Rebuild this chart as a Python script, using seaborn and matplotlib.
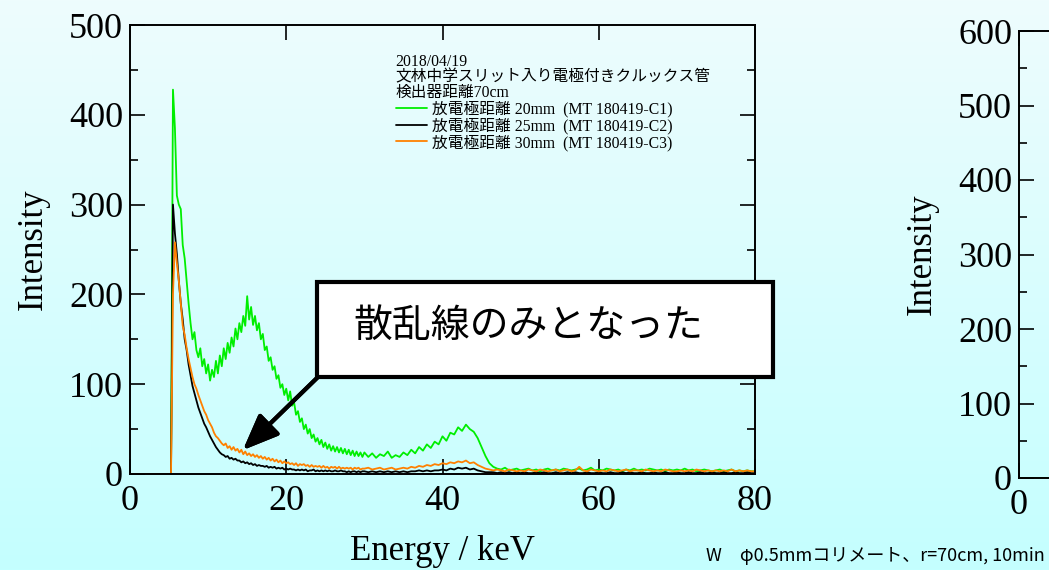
import numpy as np
import pandas as pd
import matplotlib
matplotlib.use('Agg')
import matplotlib.pyplot as plt
import seaborn as sns
from matplotlib.patches import Rectangle
from matplotlib.ticker import MultipleLocator

# energy channels (keV): one start point, 0.25 keV steps to 30, then 0.5 keV steps to 80
energy = np.concatenate([[0.0], np.arange(4, 30, 0.25), np.arange(30, 80.01, 0.5)])

green_20mm = [0,
    0, 0, 0, 0, 0, 0, 428, 385,
    310, 300, 295, 255, 240, 215, 190, 168,
    150, 158, 138, 130, 140, 120, 128, 112,
    122, 104, 116, 108, 126, 112, 132, 120,
    140, 128, 146, 135, 152, 142, 162, 150,
    168, 158, 176, 165, 198, 172, 186, 166,
    176, 160, 168, 150, 156, 138, 142, 126,
    130, 116, 120, 106, 110, 96, 100, 88,
    95, 82, 92, 76, 80, 66, 70, 58,
    62, 50, 55, 45, 50, 40, 44, 36,
    40, 33, 38, 30, 35, 28, 33, 26,
    31, 25, 30, 24, 29, 23, 28, 22,
    27, 21, 26, 20, 25, 20, 24, 19,
    24, 19, 23, 18, 22, 20, 25, 18, 21, 19,
    24, 21, 27, 23, 30, 26, 33, 29, 36, 33,
    42, 37, 46, 44, 52, 48, 55, 50, 47, 40,
    30, 20, 12, 8, 6, 5, 7, 4, 5, 6,
    4, 5, 6, 4, 5, 3, 5, 6, 4, 5,
    4, 6, 5, 4, 5, 6, 4, 5, 7, 4,
    5, 4, 6, 5, 4, 5, 3, 5, 4, 6,
    4, 5, 4, 6, 5, 4, 5, 3, 5, 4,
    5, 4, 6, 4, 5, 3, 4, 5, 4, 3,
    4, 5, 3, 4, 5, 3, 4, 3, 4, 3,
    3]

black_25mm = [0,
    0, 0, 0, 0, 0, 0, 300, 268,
    245, 215, 190, 172, 150, 138, 122, 110,
    98, 90, 82, 74, 68, 62, 56, 52,
    47, 42, 38, 34, 30, 27, 24, 22,
    21, 19, 20, 17, 18, 16, 17, 15,
    15, 13, 14, 12, 13, 11, 12, 10,
    11, 9, 10, 9, 9, 8, 9, 7,
    8, 7, 8, 6, 7, 6, 7, 5,
    6, 5, 6, 5, 5, 4, 5, 4,
    5, 4, 5, 3, 4, 4, 5, 3,
    4, 3, 4, 3, 4, 3, 4, 3,
    3, 4, 3, 3, 4, 3, 3, 2,
    3, 2, 3, 3, 2, 3, 2, 3,
    3, 2, 3, 2, 3, 2, 3, 2, 3, 2,
    3, 2, 3, 3, 4, 3, 4, 3, 4, 4,
    5, 4, 6, 5, 7, 6, 7, 5, 6, 4,
    3, 2, 2, 2, 1, 2, 1, 2, 1, 2,
    1, 2, 1, 1, 2, 1, 2, 1, 1, 2,
    1, 1, 2, 1, 2, 1, 1, 2, 1, 1,
    2, 1, 1, 2, 1, 1, 2, 1, 2, 1,
    1, 2, 1, 1, 2, 1, 1, 2, 1, 1,
    2, 1, 1, 2, 1, 1, 2, 1, 1, 2,
    1, 1, 2, 1, 1, 2, 1, 1, 2, 1,
    1]

orange_30mm = [0,
    0, 0, 0, 0, 0, 0, 200, 258,
    235, 215, 190, 165, 155, 140, 128, 118,
    108, 100, 95, 88, 82, 76, 70, 66,
    60, 56, 52, 46, 42, 40, 37, 34,
    32, 34, 29, 31, 27, 30, 26, 28,
    24, 27, 22, 25, 21, 23, 20, 22,
    19, 21, 18, 20, 17, 19, 16, 18,
    15, 17, 14, 16, 13, 15, 12, 14,
    12, 13, 11, 12, 10, 12, 9, 11,
    10, 11, 9, 10, 8, 10, 8, 9,
    8, 9, 7, 9, 7, 8, 6, 8,
    7, 8, 6, 8, 6, 7, 6, 7,
    6, 7, 5, 7, 6, 7, 5, 6,
    6, 7, 5, 6, 7, 5, 6, 7, 5, 6,
    7, 6, 8, 7, 9, 8, 10, 9, 11, 10,
    12, 11, 13, 12, 14, 13, 15, 12, 13, 10,
    8, 6, 5, 4, 5, 4, 3, 5, 4, 3,
    4, 3, 5, 4, 3, 5, 4, 3, 4, 5,
    3, 4, 5, 3, 4, 8, 4, 3, 5, 4,
    3, 4, 3, 5, 4, 3, 4, 5, 3, 4,
    4, 3, 5, 4, 3, 4, 3, 5, 4, 3,
    3, 4, 3, 4, 3, 5, 4, 3, 4, 3,
    4, 3, 4, 3, 5, 3, 4, 3, 4, 3,
    3]

labels = ['放電極距離 20mm  (MT 180419-C1)',
          '放電極距離 25mm  (MT 180419-C2)',
          '放電極距離 30mm  (MT 180419-C3)']
colors = ['#00ee00', '#000000', '#ff8000']
legend_title = '2018/04/19\n文林中学スリット入り電極付きクルックス管\n検出器距離70cm'

# second (cut off) panel: only its baseline is visible
right_energy = [0, 5]
right_green = [0, 0]

df = pd.concat([
    pd.DataFrame({'Energy': energy, 'Intensity': green_20mm, 'Series': labels[0]}),
    pd.DataFrame({'Energy': energy, 'Intensity': black_25mm, 'Series': labels[1]}),
    pd.DataFrame({'Energy': energy, 'Intensity': orange_30mm, 'Series': labels[2]}),
])

sns.set_theme(style='ticks')
plt.rcParams['font.family'] = ['Liberation Serif', 'Noto Sans CJK JP']
plt.rcParams.update({
    'text.color': 'black', 'axes.labelcolor': 'black',
    'xtick.direction': 'in', 'ytick.direction': 'in',
    'xtick.top': True, 'ytick.right': True,
    'xtick.major.size': 11, 'ytick.major.size': 11,
    'ytick.minor.size': 5.5, 'xtick.major.width': 1.2,
    'ytick.major.width': 1.2, 'ytick.minor.width': 1.2,
    'axes.linewidth': 1.4, 'axes.edgecolor': 'black',
    'xtick.color': 'black', 'ytick.color': 'black',
})

fig = plt.figure(figsize=(10.49, 5.70), dpi=100)

# light cyan gradient background
bg = fig.add_axes([0, 0, 1, 1], zorder=-10)
grad = np.linspace(0, 1, 256).reshape(-1, 1)
top_c = np.array([238, 252, 253]) / 255
bot_c = np.array([196, 255, 255]) / 255
img = top_c + grad[:, :, None] * (bot_c - top_c)
bg.imshow(img, aspect='auto', extent=[0, 1, 0, 1])
bg.axis('off')

ax = fig.add_axes([130 / 1049, 1 - 474 / 570, 625 / 1049, 449 / 570])
ax.patch.set_alpha(0)
sns.lineplot(data=df, x='Energy', y='Intensity', hue='Series', palette=colors,
             estimator=None, sort=False, linewidth=1.3, legend=False, ax=ax)
ax.set_xlim(0, 80)
ax.set_ylim(0, 500)
ax.set_xticks([0, 20, 40, 60, 80])
ax.yaxis.set_major_locator(MultipleLocator(100))
ax.yaxis.set_minor_locator(MultipleLocator(50))
ax.tick_params(labelsize=26, pad=5)
ax.tick_params(axis='x', pad=8)
ax.set_xlabel('Energy / keV', fontsize=25, labelpad=12)
ax.set_ylabel('Intensity', fontsize=25, labelpad=14)

leg_font = {'family': ['Liberation Serif', 'Noto Sans CJK JP'], 'size': 11.3}
leg = ax.legend(ax.get_lines(), labels, title=legend_title, loc='upper left',
                bbox_to_anchor=(0.425, 0.935), frameon=False, borderpad=0,
                borderaxespad=0, handlelength=2.0, handletextpad=0.3,
                labelspacing=0.0, alignment='left',
                prop=leg_font, title_fontproperties=leg_font)
leg.get_title().set_linespacing(0.95)

# right panel (cut off by the figure edge)
ax2 = fig.add_axes([1019 / 1049, 1 - 478 / 570, 625 / 1049, 447 / 570])
ax2.patch.set_alpha(0)
sns.lineplot(x=right_energy, y=right_green, color='#00ee00', linewidth=2, ax=ax2)
ax2.set_xlim(0, 80)
ax2.set_ylim(0, 600)
ax2.set_xticks([0, 20, 40, 60, 80])
ax2.set_xticklabels(['0', '', '', '', ''])
ax2.yaxis.set_major_locator(MultipleLocator(100))
ax2.yaxis.set_minor_locator(MultipleLocator(50))
ax2.tick_params(labelsize=26, pad=5)
ax2.tick_params(axis='x', pad=8)
ax2.set_xlabel('')
ax2.set_ylabel('Intensity', fontsize=25, labelpad=14)

# callout box and arrow
fig.add_artist(Rectangle((317 / 1049, 1 - 377 / 570), 456 / 1049, 95 / 570,
                         transform=fig.transFigure, facecolor='white',
                         edgecolor='black', linewidth=3, zorder=5))
fig.text(353 / 1049, 1 - 326 / 570, '散乱線のみとなった', fontsize=28, color='black',
         family=['Noto Sans CJK JP'], va='center', ha='left', zorder=6)
fig.add_artist(plt.annotate('', xy=(243 / 1049, 1 - 450 / 570), xycoords='figure fraction',
                            xytext=(318 / 1049, 1 - 377 / 570), textcoords='figure fraction',
                            arrowprops=dict(arrowstyle='-|>,head_length=1.1,head_width=0.45',
                                            mutation_scale=20, lw=3, color='black',
                                            shrinkA=0, shrinkB=0)))

fig.text(1045 / 1049, 1 - 556 / 570, 'W　φ0.5mmコリメート、r=70cm, 10min', fontsize=13,
         color='black', family=['Noto Sans CJK JP', 'DejaVu Sans'], ha='right', va='center')

fig.savefig('out.png', dpi=100)
